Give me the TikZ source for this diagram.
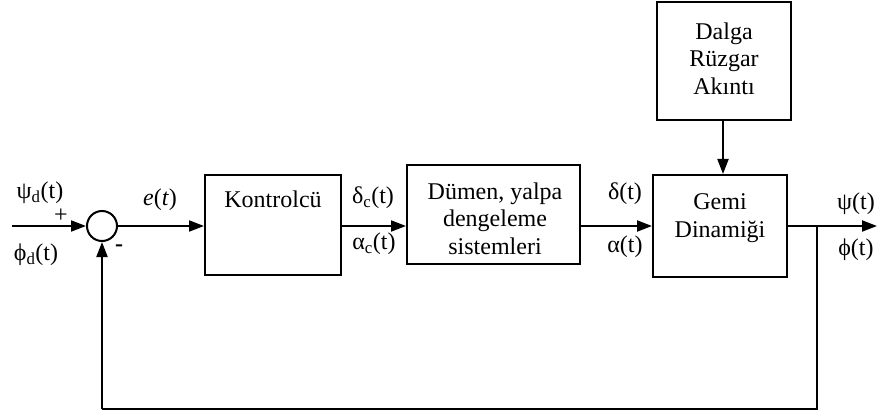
\documentclass[tikz,border=0pt]{standalone}
\usepackage{fontspec}
\setmainfont{Liberation Serif}
\usetikzlibrary{arrows.meta}
\tikzset{
  box/.style={draw, line width=2pt, inner sep=0pt},
  lbl/.style={inner sep=0pt, font=\fontsize{24}{27.5}\selectfont},
  conn/.style={line width=2pt},
  arr/.style={conn, -{Triangle[length=15pt,width=11pt]}},
  sumc/.style={draw, circle, line width=2pt, minimum size=30pt, inner sep=0pt}
}
\begin{document}
\begin{tikzpicture}[x=1pt,y=-1pt]
\useasboundingbox (0,0) rectangle (888,414);
% blocks
\node[sumc] (sum) at (102,226) {};
\node[box, minimum width=136pt, minimum height=100pt] (kon) at (273,225) {};
\node[lbl] (kontxt) at (273,199) {Kontrolcü};
\node[box, minimum width=173pt, minimum height=99pt] (dum) at (493.5,214.5) {};
\node[lbl, align=center] (dumtxt) at (495,218.5) {Dümen, yalpa\\dengeleme\\sistemleri};
\node[box, minimum width=134pt, minimum height=102pt] (gem) at (720,226) {};
\node[lbl, align=center] (gemtxt) at (720,218) {Gemi\\Dinamiği};
\node[box, minimum width=134pt, minimum height=118pt] (dal) at (724,61) {};
\node[lbl, align=center] (daltxt) at (724,58.5) {Dalga\\Rüzgar\\Akıntı};
% coordinates
\coordinate (in) at (12,226);
\coordinate (out) at (877,226);
\coordinate (br) at (817,226);
\coordinate (fb1) at (817,409);
\coordinate (fb2) at (102,409);
% connectors
\draw[arr] (in) -- (sum.west);
\draw[arr] (sum.east) -- (sum.east -| kon.west);
\draw[arr] (sum.east -| kon.east) -- (sum.east -| dum.west);
\draw[arr] (sum.east -| dum.east) -- (gem.west);
\draw[arr] (gem.east) -- (out);
\draw[arr] (dal.south -| 723,0) -- (gem.north -| 723,0);
\draw[conn] (br) -- (fb1) -- (fb2);
\draw[arr] (fb2) -- (sum.south);
% labels
\node[lbl] (l1) at (40,192.5) {ψ\textsubscript{d}(t)};
\node[lbl] (l2) at (61,216) {+};
\node[lbl] (l3) at (36,255) {ϕ\textsubscript{d}(t)};
\node[lbl] (l4) at (160,200) {\textit{e}(\textit{t})};
\node[lbl] (l5) at (119,248) {\textbf{-}};
\node[lbl] (l6) at (373,197.5) {δ\textsubscript{c}(t)};
\node[lbl] (l7) at (374,244) {α\textsubscript{c}(t)};
\node[lbl] (l8) at (625,193.5) {δ(t)};
\node[lbl] (l9) at (625,246.5) {α(t)};
\node[lbl] (l10) at (856,203.5) {ψ(t)};
\node[lbl] (l11) at (856,250) {ϕ(t)};
\end{tikzpicture}
\end{document}
